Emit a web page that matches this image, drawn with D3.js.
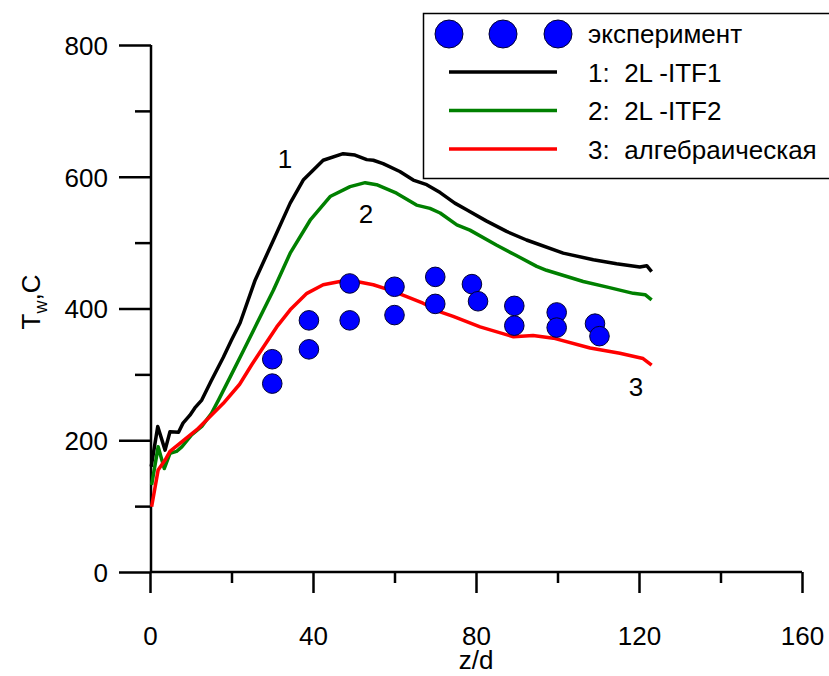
<!DOCTYPE html>
<html>
<head>
<meta charset="utf-8">
<script src="https://cdn.jsdelivr.net/npm/d3@7"></script>
<style>
  body { margin: 0; background: #fff; }
  svg { font-family: "Liberation Sans", Arial, sans-serif; }
</style>
</head>
<body>
<svg width="829" height="676"></svg>
<script>
// data
const expX = [30, 30, 39, 39, 49, 49, 60, 60, 70, 70, 79, 80.5, 89.4, 89.4, 99.8, 99.8, 109.2, 110.3];
const expY = [323, 286, 382, 338, 438, 382, 433, 390, 448, 407, 437, 411, 404, 374, 394, 371, 377, 358];

const itf1X = [0.3, 1.9, 3.7, 4.9, 7, 8.1, 9.8, 11, 12.7, 15, 18, 20, 22.1, 25.8, 30.3, 34.4, 37.6, 42.5, 47.4, 50.3, 53.2, 54.8, 57.2, 61.3, 64.6, 67.9, 71.2, 74.8, 77.7, 82.5, 87.5, 92.4, 101.4, 108.8, 114.5, 120.2, 121.9, 123.1];
const itf1Y = [160, 221, 185, 213, 212, 226, 238, 249, 261, 290, 326, 352, 378, 443, 504, 560, 595, 625, 635, 633, 626, 625, 620, 608, 595, 588, 576, 560, 550, 533, 517, 504, 484, 474, 468, 463, 465, 456];

const itf2X = [0.4, 2, 3.5, 4.9, 6.5, 7.8, 10.2, 12.7, 15.1, 16.8, 20, 23, 25.8, 30.3, 34.4, 39.3, 44.2, 49.1, 52.8, 55.6, 60.5, 65.4, 68.7, 71.2, 75.3, 78.5, 85.1, 90, 94.9, 97.3, 106.3, 112.5, 118.6, 121.5, 123.1];
const itf2Y = [132, 190, 157, 180, 183, 190, 208, 221, 241, 261, 300, 337, 372, 428, 484, 534, 570, 585, 591, 588, 575, 557, 552, 545, 527, 519, 496, 480, 464, 458, 441, 432, 423, 421, 413];

const algX = [0.4, 2, 3.7, 4.9, 11.5, 18, 22, 25, 28, 31.1, 34.4, 38.5, 42.5, 46.6, 50.7, 54.8, 58.9, 63, 67, 71.2, 74.4, 81, 89.2, 94, 99, 108, 115.3, 121, 123.1];
const algY = [99, 155, 170, 183, 216, 256, 285, 315, 343, 372, 398, 423, 436, 441, 441, 436, 428, 418, 408, 395, 388, 372, 357, 359, 355, 340, 332, 324, 314];

const xMajor = [0, 40, 80, 120, 160];
const xMinor = [20, 60, 100, 140];
const yMajor = [0, 200, 400, 600, 800];
const yMinor = [100, 300, 500, 700];

const legendLabels = ["эксперимент", "1:  2L -ITF1", "2:  2L -ITF2", "3:  алгебраическая"];
const curveColors = ["#000000", "#008000", "#ff0000"];

const fs = 26;
const svg = d3.select("svg");
const x = d3.scaleLinear().domain([0, 160]).range([150, 802]);
const y = d3.scaleLinear().domain([0, 800]).range([572, 45]);

// x axis
const xAxis = svg.append("g").attr("transform", "translate(0,572)")
    .call(d3.axisBottom(x).tickValues(xMajor).tickSize(21).tickPadding(52).tickFormat(d3.format("d")));
svg.append("g").attr("transform", "translate(0,572)")
    .call(d3.axisBottom(x).tickValues(xMinor).tickSize(11).tickFormat(""))
    .select(".domain").remove();

// y axis
const yAxis = svg.append("g").attr("transform", "translate(151,0)")
    .call(d3.axisLeft(y).tickValues(yMajor).tickSize(32).tickPadding(11).tickFormat(d3.format("d")));
svg.append("g").attr("transform", "translate(151,0)")
    .call(d3.axisLeft(y).tickValues(yMinor).tickSize(16).tickFormat(""))
    .select(".domain").remove();

svg.selectAll(".domain").attr("d", function() {
  return this.parentNode === xAxis.node() ? "M150,0H802" : "M0,572V45";
});
svg.selectAll(".tick line, .domain").attr("stroke", "#000").attr("stroke-width", 2.5);
svg.selectAll(".tick text").attr("font-size", fs).attr("fill", "#000")
    .attr("font-family", "Liberation Sans, Arial, sans-serif");
xAxis.selectAll(".tick text").attr("dy", "0");
yAxis.selectAll(".tick text").attr("dy", "0.36em");

// axis titles
svg.append("text").attr("x", 476).attr("y", 669).attr("text-anchor", "middle")
    .attr("font-size", fs).text("z/d");
const yl = svg.append("text").attr("transform", "translate(40,302) rotate(-90)")
    .attr("text-anchor", "middle").attr("font-size", fs);
yl.append("tspan").text("T");
yl.append("tspan").attr("font-size", 18).attr("dy", 7).text("w");
yl.append("tspan").attr("dy", -7).text(",C");

// curves
const line = d3.line().x(d => x(d[0])).y(d => y(d[1]));
[[itf1X, itf1Y], [itf2X, itf2Y], [algX, algY]].forEach((s, i) => {
  svg.append("path")
      .datum(s[0].map((v, j) => [v, s[1][j]]))
      .attr("fill", "none")
      .attr("stroke", curveColors[i])
      .attr("stroke-width", 3.5)
      .attr("stroke-linejoin", "round")
      .attr("d", line);
});

// experiment points
svg.selectAll(".pt")
    .data(expX.map((v, i) => [v, expY[i]]))
    .enter().append("circle")
    .attr("class", "pt")
    .attr("cx", d => x(d[0]))
    .attr("cy", d => y(d[1]))
    .attr("r", 9.8)
    .attr("fill", "#0000ff")
    .attr("stroke", "#000033")
    .attr("stroke-width", 1);

// curve labels
svg.append("text").attr("x", 285).attr("y", 168).attr("text-anchor", "middle").attr("font-size", fs).text("1");
svg.append("text").attr("x", 366).attr("y", 223).attr("text-anchor", "middle").attr("font-size", fs).text("2");
svg.append("text").attr("x", 636).attr("y", 396).attr("text-anchor", "middle").attr("font-size", fs).text("3");

// legend
const lg = svg.append("g");
lg.append("rect").attr("x", 423.5).attr("y", 13.5).attr("width", 420).attr("height", 165)
    .attr("fill", "#fff").attr("stroke", "#000").attr("stroke-width", 1.5);
[449, 503, 558].forEach(cx => {
  lg.append("circle").attr("cx", cx).attr("cy", 34).attr("r", 14)
      .attr("fill", "#0000ff").attr("stroke", "#000033").attr("stroke-width", 1);
});
curveColors.forEach((c, i) => {
  lg.append("line").attr("x1", 449).attr("x2", 557)
      .attr("y1", 72 + i * 38.5).attr("y2", 72 + i * 38.5)
      .attr("stroke", c).attr("stroke-width", 3.5);
});
legendLabels.forEach((t, i) => {
  lg.append("text").attr("x", 588).attr("y", 34 + i * 38.5).attr("dy", "0.36em")
      .attr("font-size", fs).style("white-space", "pre").text(t);
});
</script>
</body>
</html>
